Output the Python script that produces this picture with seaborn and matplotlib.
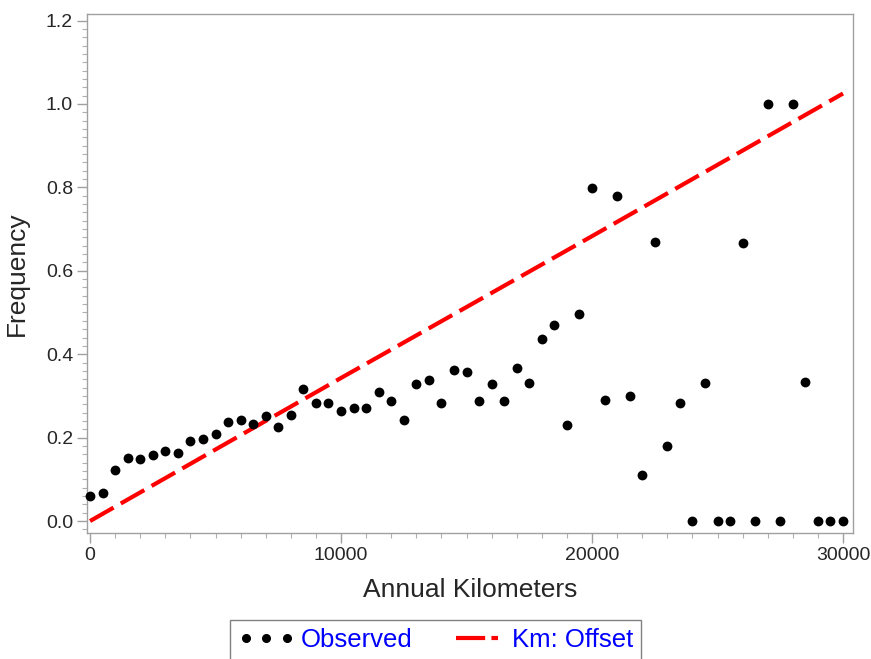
import numpy as np
import pandas as pd
import seaborn as sns
import matplotlib.pyplot as plt
from matplotlib.lines import Line2D
from matplotlib.ticker import MultipleLocator

# Observed frequencies by annual kilometers
km_obs = [0, 500, 1000, 1500, 2000, 2500, 3000, 3500, 4000, 4500,
          5000, 5500, 6000, 6500, 7000, 7500, 8000, 8500, 9000, 9500,
          10000, 10500, 11000, 11500, 12000, 12500, 13000, 13500, 14000, 14500,
          15000, 15500, 16000, 16500, 17000, 17500, 18000, 18500, 19000, 19500,
          20000, 20500, 21000, 21500, 22000, 22500, 23000, 23500, 24000, 24500,
          25000, 25500, 26000, 26500, 27000, 27500, 28000, 28500, 29000, 29500,
          30000]
freq_obs = [0.060, 0.067, 0.122, 0.151, 0.149, 0.158, 0.168, 0.163, 0.192, 0.197,
            0.209, 0.237, 0.242, 0.233, 0.252, 0.225, 0.254, 0.317, 0.283, 0.283,
            0.264, 0.271, 0.271, 0.309, 0.288, 0.242, 0.329, 0.338, 0.283, 0.362,
            0.357, 0.288, 0.329, 0.288, 0.367, 0.331, 0.436, 0.470, 0.230, 0.496,
            0.799, 0.290, 0.779, 0.300, 0.110, 0.669, 0.180, 0.283, 0.000, 0.331,
            0.000, 0.000, 0.667, 0.000, 1.000, 0.000, 1.000, 0.333, 0.000, 0.000,
            0.000]

# Fitted line (Km: Offset)
km_fit = [0, 10000, 20000, 30000]
freq_fit = [0.0, 0.343, 0.683, 1.025]

obs = pd.DataFrame({"km": km_obs, "freq": freq_obs})
fit = pd.DataFrame({"km": km_fit, "freq": freq_fit})

sns.set_style("white")
plt.rcParams['font.family'] = ['Liberation Sans', 'DejaVu Sans']

fig = plt.figure(figsize=(8.71, 6.59), dpi=100)
ax = fig.add_axes([0.0999, 0.191, 0.8795, 0.788])

sns.lineplot(data=fit, x="km", y="freq", ax=ax, color="#ff0000", linewidth=3,
             dashes=False, zorder=2)
ax.lines[0].set_dashes([6.5, 2])
sns.scatterplot(data=obs, x="km", y="freq", ax=ax, color="black", s=50,
                edgecolor="black", linewidth=0, zorder=3, clip_on=False)

ax.set_xlim(-120, 30400)
ax.set_ylim(-0.029, 1.216)
ax.set_xticks([0, 10000, 20000, 30000])
ax.xaxis.set_minor_locator(MultipleLocator(1000))
ax.set_yticks([0.0, 0.2, 0.4, 0.6, 0.8, 1.0, 1.2])
ax.yaxis.set_minor_locator(MultipleLocator(0.02))
ax.set_yticklabels([f"{v:.1f}" for v in [0.0, 0.2, 0.4, 0.6, 0.8, 1.0, 1.2]])

for s in ax.spines.values():
    s.set_color("#a0a0a0")
    s.set_linewidth(1)
ax.tick_params(axis="both", which="major", length=7, width=1, color="#a0a0a0",
               labelsize=14, pad=3, bottom=True, left=True)
ax.tick_params(axis="both", which="minor", length=3.5, width=0.8, color="#b0b0b0",
               bottom=True, left=True)

ax.set_xlabel("Annual Kilometers", fontsize=19, labelpad=10)
ax.set_ylabel("Frequency", fontsize=19, labelpad=12)

handles = [
    Line2D([], [], color="black", marker="o", linestyle="none", markersize=5.5),
    Line2D([], [], color="#ff0000", linewidth=3, dashes=[7, 1.5]),
]
leg = fig.legend(handles, ["Observed", "Km: Offset"], loc="upper center",
                 bbox_to_anchor=(0.5, 0.059), borderaxespad=0, ncol=2, numpoints=3,
                 handlelength=2.2, handletextpad=0.25, columnspacing=1.4,
                 frameon=True, fancybox=False, fontsize=18.5, borderpad=0.3)
leg.get_frame().set_edgecolor("#606060")
leg.get_frame().set_linewidth(1)
for t in leg.get_texts():
    t.set_color("#0000ff")

fig.savefig("out.png", dpi=100)
